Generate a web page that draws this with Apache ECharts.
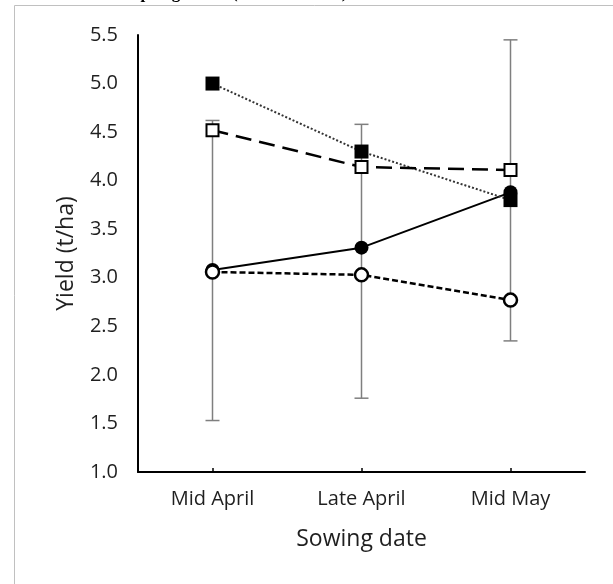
<!DOCTYPE html>
<html>
<head>
<meta charset="utf-8">
<script src="https://cdn.jsdelivr.net/npm/echarts@6/dist/echarts.min.js"></script>
<style>html,body{margin:0;padding:0;background:#fff}#c{width:613px;height:584px}</style>
</head>
<body>
<div id="c"></div>
<script>
const categories = ['Mid April', 'Late April', 'Mid May'];
const yTicks = [1.0, 1.5, 2.0, 2.5, 3.0, 3.5, 4.0, 4.5, 5.0, 5.5];
const filledSquare = [5.00, 4.30, 3.80];
const openSquare = [4.52, 4.14, 4.11];
const filledCircle = [3.08, 3.31, 3.88];
const openCircle = [3.06, 3.03, 2.77];
const errLow = [1.53, 1.76, 2.35];
const errHigh = [4.62, 4.58, 5.45];
const titleText = 'Spring wheat (2016 and 2017)';

const chart = echarts.init(document.getElementById('c'), null, {renderer: 'canvas'});
const FONT = 'Open Sans';
const lbl = {fontFamily: FONT, fontSize: 20, color: '#1f1f1f'};

chart.setOption({
  animation: false,
  backgroundColor: '#ffffff',
  graphic: [
    {type: 'rect', silent: true, z: -10, shape: {x: 14.5, y: 5.5, width: 800, height: 800},
     style: {fill: 'none', stroke: '#c0c0c0', lineWidth: 1}},
    {type: 'text', silent: true, x: 131, y: -6,
     style: {text: titleText, font: 'bold 17px "Liberation Serif"', fill: '#000', verticalAlign: 'middle'}}
  ],
  grid: {left: 138, right: 28, top: 35, bottom: 112, containLabel: false},
  xAxis: {
    type: 'category',
    data: categories,
    boundaryGap: true,
    name: 'Sowing date',
    nameLocation: 'middle',
    nameGap: 56,
    nameTextStyle: {fontFamily: FONT, fontSize: 23, color: '#1f1f1f'},
    axisLine: {show: true, lineStyle: {color: '#000', width: 2}},
    axisTick: {show: true, inside: true, alignWithLabel: true, length: 4, lineStyle: {color: '#000', width: 1.5}},
    axisLabel: Object.assign({margin: 17}, lbl),
    splitLine: {show: false}
  },
  yAxis: {
    type: 'value',
    min: yTicks[0],
    max: yTicks[yTicks.length - 1],
    interval: 0.5,
    name: 'Yield (t/ha)',
    nameLocation: 'middle',
    nameGap: 60,
    nameTextStyle: {fontFamily: FONT, fontSize: 23, color: '#1f1f1f'},
    axisLine: {show: true, lineStyle: {color: '#000', width: 2}},
    axisTick: {show: false},
    axisLabel: Object.assign({margin: 20, formatter: v => v.toFixed(1)}, lbl),
    splitLine: {show: false}
  },
  series: [
    {
      type: 'custom',
      name: 'err',
      z: 1,
      data: categories.map((c, i) => [i, errLow[i], errHigh[i]]),
      renderItem: function (params, api) {
        const x = api.value(0);
        const lo = api.coord([x, api.value(1)]);
        const hi = api.coord([x, api.value(2)]);
        const w = 7;
        const st = {stroke: '#7f7f7f', lineWidth: 1.5};
        return {type: 'group', children: [
          {type: 'line', shape: {x1: lo[0], y1: lo[1], x2: hi[0], y2: hi[1]}, style: st},
          {type: 'line', shape: {x1: lo[0] - w, y1: lo[1], x2: lo[0] + w, y2: lo[1]}, style: st},
          {type: 'line', shape: {x1: hi[0] - w, y1: hi[1], x2: hi[0] + w, y2: hi[1]}, style: st}
        ]};
      }
    },
    {
      type: 'line', name: 'filled circle', z: 3, data: filledCircle,
      symbol: 'circle', symbolSize: 14,
      lineStyle: {color: '#000', width: 2, type: 'solid'},
      itemStyle: {color: '#000', borderColor: '#000', borderWidth: 0}
    },
    {
      type: 'line', name: 'filled square', z: 4, data: filledSquare,
      symbol: 'rect', symbolSize: 14,
      lineStyle: {color: '#333', width: 2, type: [2, 2]},
      itemStyle: {color: '#000', borderColor: '#000', borderWidth: 0}
    },
    {
      type: 'line', name: 'open square', z: 5, data: openSquare,
      symbol: 'rect', symbolSize: 12,
      lineStyle: {color: '#000', width: 2.5, type: [16, 8]},
      itemStyle: {color: '#fff', borderColor: '#000', borderWidth: 2}
    },
    {
      type: 'line', name: 'open circle', z: 6, data: openCircle,
      symbol: 'circle', symbolSize: 13,
      lineStyle: {color: '#000', width: 2.5, type: [6, 3]},
      itemStyle: {color: '#fff', borderColor: '#000', borderWidth: 2.5}
    }
  ]
});
</script>
</body>
</html>
